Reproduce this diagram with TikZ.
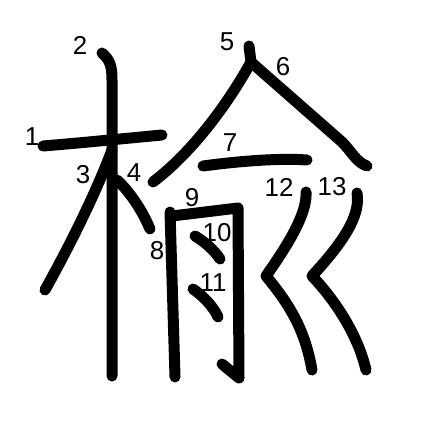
\documentclass[tikz,border=0pt]{standalone}
\usepackage{fontspec}
\setmainfont{Liberation Sans}
\usepackage{tikz}
\tikzset{
  brush/.style={line width=11bp,line cap=round,line join=round},
  numlabel/.style={inner sep=0pt,font=\fontsize{26}{26}\selectfont}
}

\begin{document}
\begin{tikzpicture}[x=1bp,y=-1bp]
    \useasboundingbox (0,0) rectangle (447,447);
    % tree radical
    \draw[brush] (43,146) .. controls (80,143) and (130,138) .. (162,135);
    \draw[brush] (102,53) .. controls (110,60) and (112,66) .. (112,80) -- (112,376);
    \draw[brush] (112,150) .. controls (95,195) and (70,245) .. (45,290);
    \draw[brush] (117,180) .. controls (130,192) and (142,210) .. (150,229);
    % roof
    \draw[brush] (249,46) -- (251,62) .. controls (230,100) and (195,150) .. (153,182);
    \draw[brush] (252,63) -- (342,142) .. controls (352,152) and (356,162) .. (367,166);
    \draw[brush] (203,166) .. controls (240,161) and (280,158) .. (307,160);
    % moon
    \draw[brush] (170,212) -- (175,377);
    \draw[brush] (172,216) -- (238,208) -- (239,378) -- (222,364);
    \draw[brush] (195,236) .. controls (205,242) and (214,250) .. (220,259);
    \draw[brush] (193,289) .. controls (203,296) and (213,306) .. (218,317);
    % knife
    \draw[brush] (306,192) .. controls (307,210) and (295,235) .. (266,276)
      .. controls (290,305) and (305,330) .. (312,370);
    \draw[brush] (357,193) .. controls (360,212) and (350,235) .. (312,276)
      .. controls (335,300) and (358,335) .. (366,370);
    % stroke numbers
    \node[numlabel] (num1) at (32,137) {1};
    \node[numlabel] (num2) at (80,45) {2};
    \node[numlabel] (num3) at (83,175) {3};
    \node[numlabel] (num4) at (134,173) {4};
    \node[numlabel] (num5) at (227,42) {5};
    \node[numlabel] (num6) at (283,67) {6};
    \node[numlabel] (num7) at (230,143) {7};
    \node[numlabel] (num8) at (157,251) {8};
    \node[numlabel] (num9) at (192,198) {9};
    \node[numlabel] (num10) at (217,233) {10};
    \node[numlabel] (num11) at (213,283) {11};
    \node[numlabel] (num12) at (279,187) {12};
    \node[numlabel] (num13) at (332,187) {13};
  \end{tikzpicture}
\end{document}
